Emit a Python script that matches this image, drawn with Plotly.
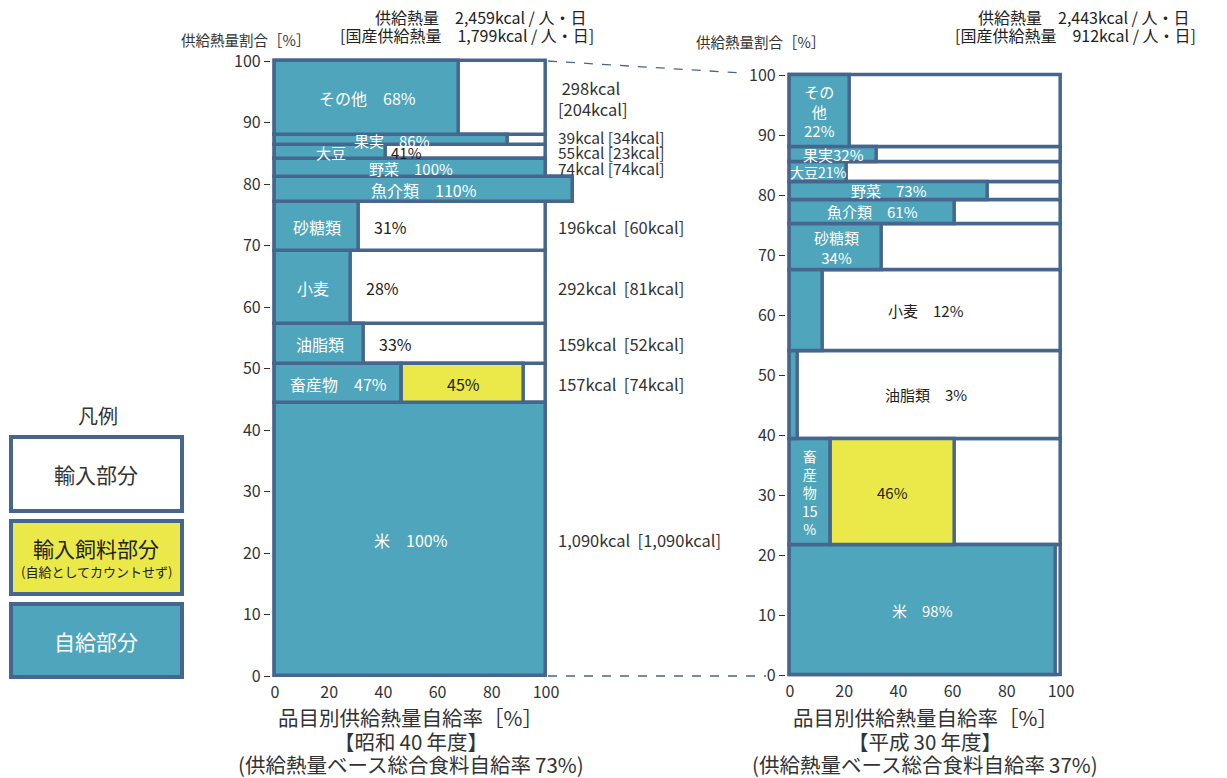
import plotly.graph_objects as go

# ---------------- data ----------------
categories = ["米", "畜産物", "油脂類", "小麦", "砂糖類", "魚介類", "野菜", "大豆", "果実", "その他"]

s40_kcal = [1090, 157, 159, 292, 196, 99, 74, 55, 39, 298]
s40_dom_kcal = [1090, 74, 52, 81, 60, 108, 74, 23, 34, 204]
s40_rate = [100, 47, 33, 28, 31, 110, 100, 41, 86, 68]
s40_feed = [0, 45, 0, 0, 0, 0, 0, 0, 0, 0]

h30_kcal = [528, 434, 359, 326, 191, 98, 73, 78, 64, 293]
h30_dom_kcal = [517, 66, 10, 39, 65, 60, 53, 16, 21, 66]
h30_rate = [98, 15, 3, 12, 34, 61, 73, 21, 32, 22]
h30_feed = [0, 46, 0, 0, 0, 0, 0, 0, 0, 0]

y_ticks = [0, 10, 20, 30, 40, 50, 60, 70, 80, 90, 100]
x_ticks = [0, 20, 40, 60, 80, 100]

# ---------------- style ----------------
W, H = 1227, 778
TEAL = "#4fa5bb"
BORDER = "#46668e"
YELLOW = "#ebe84a"
TXT = "#333333"
FONT = "Noto Sans CJK JP"
LW = 3.5


def px(x):
    return x / W


def py(y):
    return 1 - y / H


fig = go.Figure()
annotations = []


def layout_rows(kcal):
    total = sum(kcal)
    heights = [k / total * 100 for k in kcal]
    bottoms = []
    acc = 0
    for h in heights:
        bottoms.append(acc)
        acc += h
    centers = [b + h / 2 for b, h in zip(bottoms, heights)]
    return heights, centers


def add_chart(xa, ya, kcal, dom, rate, feed, inner, kcal_text, kcal_dx):
    heights, centers = layout_rows(kcal)
    outer = [max(100, r) for r in rate]
    common = dict(orientation="h", xaxis=xa, yaxis=ya, hoverinfo="skip", showlegend=False)
    fig.add_trace(go.Bar(x=outer, y=centers, width=heights, base=[0] * len(rate),
                         marker=dict(color="white", line=dict(color=BORDER, width=LW)), **common))
    fig.add_trace(go.Bar(x=rate, y=centers, width=heights, base=[0] * len(rate),
                         marker=dict(color=TEAL, line=dict(color=BORDER, width=LW)), **common))
    idx = [i for i, f in enumerate(feed) if f > 0]
    fig.add_trace(go.Bar(x=[feed[i] for i in idx], y=[centers[i] for i in idx],
                         width=[heights[i] for i in idx], base=[rate[i] for i in idx],
                         marker=dict(color=YELLOW, line=dict(color=BORDER, width=LW)), **common))
    for i in range(len(categories)):
        for spec in inner[i]:
            text, mode, color, size, shift = spec
            if mode == "teal":
                xx, anc = rate[i] / 2, "center"
            elif mode == "feed":
                xx, anc = rate[i] + feed[i] / 2, "center"
            elif mode == "box":
                xx, anc = 50, "center"
            else:  # after
                xx, anc = rate[i], "left"
            annotations.append(dict(x=xx, y=centers[i], xref=xa, yref=ya, text=text,
                                    showarrow=False, xanchor=anc, yanchor="middle",
                                    xshift=shift, font=dict(family=FONT, size=size, color=color)))
        t, ys, ks = kcal_text[i]
        annotations.append(dict(x=max(100, rate[i]) + kcal_dx, y=centers[i], xref=xa, yref=ya,
                                text=t, showarrow=False, xanchor="left", yanchor="middle",
                                align="left", yshift=ys,
                                font=dict(family=FONT, size=ks, color=TXT)))


NB = "\u00a0"
W_ = "white"
K = "#222222"

# left chart (昭和40年度)
inner40 = [
    [("米　100%", "teal", W_, 16, 0)],
    [("畜産物　47%", "teal", W_, 16, 0), ("45%", "feed", K, 16, 0)],
    [("油脂類", "teal", W_, 16, 0), ("33%", "after", K, 16, 13)],
    [("小麦", "teal", W_, 16, 0), ("28%", "after", K, 16, 13)],
    [("砂糖類", "teal", W_, 16, 0), ("31%", "after", K, 16, 13)],
    [("魚介類　110%", "teal", W_, 16, 0)],
    [("野菜　100%", "teal", W_, 15, 0)],
    [("大豆", "teal", W_, 15, 0), ("41%", "after", K, 15, 3)],
    [("果実　86%", "teal", W_, 15, 0)],
    [("その他　68%", "teal", W_, 16, 0)],
]


def ktxt(k, d, gap):
    return f"{k:,}kcal{NB * gap}[{d:,}kcal]"


narrow40 = {5, 6, 7, 8}
kt40 = []
for i in range(len(categories)):
    if i == 9:
        kt40.append((f"{NB}{s40_kcal[i]}kcal<br>[{s40_dom_kcal[i]}kcal]", 0, 16.5))
    elif i in narrow40:
        kt40.append((ktxt(s40_kcal[i], s40_dom_kcal[i], 1), 3 if i == 8 else 0, 15.5))
    else:
        kt40.append((ktxt(s40_kcal[i], s40_dom_kcal[i], 2), 0, 16.5))

add_chart("x", "y", s40_kcal, s40_dom_kcal, s40_rate, s40_feed, inner40, kt40, 3.7)

# right chart (平成30年度)
inner30 = [
    [("米　98%", "teal", W_, 15, 0)],
    [("畜<br>産<br>物<br>15<br>%", "teal", W_, 14, 0), ("46%", "feed", K, 15, 0)],
    [("油脂類　3%", "box", K, 15, 0)],
    [("小麦　12%", "box", K, 15, 0)],
    [("砂糖類<br>34%", "teal", W_, 15, 0)],
    [("魚介類　61%", "teal", W_, 15, 0)],
    [("野菜　73%", "teal", W_, 15, 0)],
    [("大豆21%", "teal", W_, 14, 0)],
    [("果実32%", "teal", W_, 15, 0)],
    [("その<br>他<br>22%", "teal", W_, 15, 0)],
]
kt30 = [(ktxt(h30_kcal[i], h30_dom_kcal[i], 2), 0, 16.5) for i in range(len(categories))]
add_chart("x2", "y2", h30_kcal, h30_dom_kcal, h30_rate, h30_feed, inner30, kt30, 4.4)

# ---------------- axes ----------------
PXU_X = 2.71
L_X0, R_X0 = 275, 790
L_Y0, L_PY = 676, 6.15
R_Y0, R_PY = 675, 6.0
xr_l = [-1.5, 112]
xr_r = [-1.5, 102]
yr_ = [-0.8, 100.8]

axis_common = dict(showgrid=False, zeroline=False, showline=False, fixedrange=True,
                   automargin=False, tickfont=dict(family=FONT, size=16, color=TXT))

fig.update_layout(
    xaxis=dict(range=xr_l, domain=[px(L_X0 + xr_l[0] * PXU_X), px(L_X0 + xr_l[1] * PXU_X)],
               tickvals=x_ticks, anchor="y", **axis_common),
    yaxis=dict(range=yr_, domain=[py(L_Y0 - yr_[0] * L_PY), py(L_Y0 - yr_[1] * L_PY)],
               tickvals=y_ticks, ticks="outside", ticklen=6, tickcolor=TXT, anchor="x",
               **axis_common),
    xaxis2=dict(range=xr_r, domain=[px(R_X0 + xr_r[0] * PXU_X), px(R_X0 + xr_r[1] * PXU_X)],
                tickvals=x_ticks, anchor="y2", **axis_common),
    yaxis2=dict(range=yr_, domain=[py(R_Y0 - yr_[0] * R_PY), py(R_Y0 - yr_[1] * R_PY)],
                tickvals=y_ticks, ticks="outside", ticklen=6, tickcolor=TXT, anchor="x2",
                **axis_common),
)


# ---------------- texts ----------------
def ptext(x, y, text, size, anchor="center", color=TXT):
    annotations.append(dict(x=px(x), y=py(y), xref="paper", yref="paper", text=text,
                            showarrow=False, xanchor=anchor, yanchor="middle",
                            font=dict(family=FONT, size=size, color=color)))


ptext(245, 39, "供給熱量割合［%］", 14.5)
ptext(760, 42, "供給熱量割合［%］", 14.5)
ptext(588, 17, "供給熱量　2,459kcal / 人・日", 16, "right", "#222")
ptext(596, 35, "[国産供給熱量　1,799kcal / 人・日]", 16, "right", "#222")
ptext(1191, 17, "供給熱量　2,443kcal / 人・日", 16, "right", "#222")
ptext(1198, 35, "[国産供給熱量　912kcal / 人・日]", 16, "right", "#222")

TS = "\u2009"
for cx, era, rate_all in [(L_X0 + 50 * PXU_X, f"【昭和{TS}40{TS}年度】", "73%"),
                          (R_X0 + 50 * PXU_X, f"【平成{TS}30{TS}年度】", "37%")]:
    ptext(cx, 717, "品目別供給熱量自給率［%］", 20.5)
    ptext(cx, 741, era, 20.5)
    ptext(cx, 764, f"(供給熱量ベース総合食料自給率{TS}{rate_all})", 20.5)

# legend
ptext(98, 415, "凡例", 20)
shapes = []
for (y0, y1, fill, lines) in [
    (437, 511, "white", [("輸入部分", 0, 21, TXT)]),
    (521, 594, YELLOW, [("輸入飼料部分", -10, 21, "#222"), ("(自給としてカウントせず)", 14, 13, "#222")]),
    (604, 677, TEAL, [("自給部分", 0, 21, "white")]),
]:
    shapes.append(dict(type="rect", xref="paper", yref="paper", x0=px(11), x1=px(182),
                       y0=py(y1), y1=py(y0), fillcolor=fill, line=dict(color=BORDER, width=4),
                       layer="below"))
    for t, dy, s, c in lines:
        ptext(96, (y0 + y1) / 2 + dy, t, s, "center", c)

# dashed connectors
shapes.append(dict(type="line", xref="paper", yref="paper", x0=px(548), y0=py(61),
                   x1=px(742), y1=py(73), line=dict(color=BORDER, width=1.3, dash="dash")))
shapes.append(dict(type="line", xref="paper", yref="paper", x0=px(548), y0=py(676),
                   x1=px(766), y1=py(676), line=dict(color=BORDER, width=1.3, dash="dash")))

fig.update_layout(
    width=W, height=H, margin=dict(l=0, r=0, t=0, b=0, pad=0, autoexpand=False),
    paper_bgcolor="white", plot_bgcolor="white",
    barmode="overlay", bargap=0,
    annotations=annotations, shapes=shapes,
    font=dict(family=FONT, color=TXT),
)

fig.write_html("out.html")
